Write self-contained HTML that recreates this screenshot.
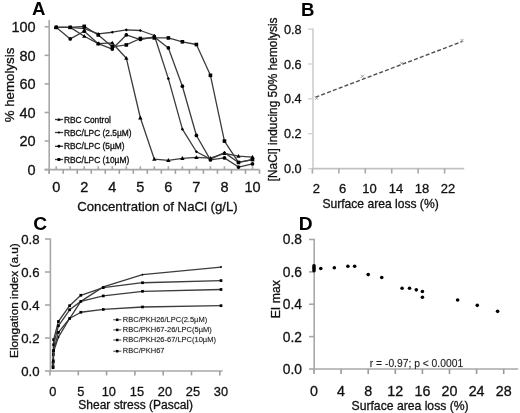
<!DOCTYPE html>
<html><head><meta charset="utf-8"><style>
html,body{margin:0;padding:0;background:#fff;}
body{width:520px;height:413px;overflow:hidden;}
svg{display:block;font-family:"Liberation Sans", sans-serif;will-change:transform;}
</style></head><body>
<svg width="520" height="413" viewBox="0 0 520 413">
<rect width="520" height="413" fill="#fff"/>
<text x="32.00" y="15.00" font-size="18.6" text-anchor="start" font-weight="bold" fill="#000" stroke="#000" stroke-width="0" >A</text>
<line x1="49.20" y1="20.00" x2="49.20" y2="173.80" stroke="#a8a8a8" stroke-width="1.6" />
<line x1="44.60" y1="169.60" x2="49.20" y2="169.60" stroke="#a8a8a8" stroke-width="1.6" />
<text x="35.60" y="174.82" font-size="14.5" text-anchor="end" font-weight="normal" fill="#111" stroke="#111" stroke-width="0.3" >0</text>
<line x1="44.60" y1="141.04" x2="49.20" y2="141.04" stroke="#a8a8a8" stroke-width="1.6" />
<text x="35.60" y="146.26" font-size="14.5" text-anchor="end" font-weight="normal" fill="#111" stroke="#111" stroke-width="0.3" >20</text>
<line x1="44.60" y1="112.48" x2="49.20" y2="112.48" stroke="#a8a8a8" stroke-width="1.6" />
<text x="35.60" y="117.70" font-size="14.5" text-anchor="end" font-weight="normal" fill="#111" stroke="#111" stroke-width="0.3" >40</text>
<line x1="44.60" y1="83.92" x2="49.20" y2="83.92" stroke="#a8a8a8" stroke-width="1.6" />
<text x="35.60" y="89.14" font-size="14.5" text-anchor="end" font-weight="normal" fill="#111" stroke="#111" stroke-width="0.3" >60</text>
<line x1="44.60" y1="55.36" x2="49.20" y2="55.36" stroke="#a8a8a8" stroke-width="1.6" />
<text x="35.60" y="60.58" font-size="14.5" text-anchor="end" font-weight="normal" fill="#111" stroke="#111" stroke-width="0.3" >80</text>
<line x1="44.60" y1="26.80" x2="49.20" y2="26.80" stroke="#a8a8a8" stroke-width="1.6" />
<text x="35.60" y="32.02" font-size="14.5" text-anchor="end" font-weight="normal" fill="#111" stroke="#111" stroke-width="0.3" >100</text>
<line x1="44.60" y1="169.60" x2="259.50" y2="169.60" stroke="#a8a8a8" stroke-width="1.6" />
<line x1="49.20" y1="169.60" x2="49.20" y2="173.80" stroke="#a0a0a0" stroke-width="1.6" />
<line x1="63.22" y1="169.60" x2="63.22" y2="173.80" stroke="#a0a0a0" stroke-width="1.6" />
<line x1="77.24" y1="169.60" x2="77.24" y2="173.80" stroke="#a0a0a0" stroke-width="1.6" />
<line x1="91.26" y1="169.60" x2="91.26" y2="173.80" stroke="#a0a0a0" stroke-width="1.6" />
<line x1="105.28" y1="169.60" x2="105.28" y2="173.80" stroke="#a0a0a0" stroke-width="1.6" />
<line x1="119.30" y1="169.60" x2="119.30" y2="173.80" stroke="#a0a0a0" stroke-width="1.6" />
<line x1="133.32" y1="169.60" x2="133.32" y2="173.80" stroke="#a0a0a0" stroke-width="1.6" />
<line x1="147.34" y1="169.60" x2="147.34" y2="173.80" stroke="#a0a0a0" stroke-width="1.6" />
<line x1="161.36" y1="169.60" x2="161.36" y2="173.80" stroke="#a0a0a0" stroke-width="1.6" />
<line x1="175.38" y1="169.60" x2="175.38" y2="173.80" stroke="#a0a0a0" stroke-width="1.6" />
<line x1="189.40" y1="169.60" x2="189.40" y2="173.80" stroke="#a0a0a0" stroke-width="1.6" />
<line x1="203.42" y1="169.60" x2="203.42" y2="173.80" stroke="#a0a0a0" stroke-width="1.6" />
<line x1="217.44" y1="169.60" x2="217.44" y2="173.80" stroke="#a0a0a0" stroke-width="1.6" />
<line x1="231.46" y1="169.60" x2="231.46" y2="173.80" stroke="#a0a0a0" stroke-width="1.6" />
<line x1="245.48" y1="169.60" x2="245.48" y2="173.80" stroke="#a0a0a0" stroke-width="1.6" />
<line x1="259.50" y1="169.60" x2="259.50" y2="173.80" stroke="#a0a0a0" stroke-width="1.6" />
<line x1="56.21" y1="166.30" x2="56.21" y2="169.60" stroke="#a8a8a8" stroke-width="1.6" />
<line x1="70.23" y1="166.30" x2="70.23" y2="169.60" stroke="#a8a8a8" stroke-width="1.6" />
<line x1="84.25" y1="166.30" x2="84.25" y2="169.60" stroke="#a8a8a8" stroke-width="1.6" />
<line x1="98.27" y1="166.30" x2="98.27" y2="169.60" stroke="#a8a8a8" stroke-width="1.6" />
<line x1="112.29" y1="166.30" x2="112.29" y2="169.60" stroke="#a8a8a8" stroke-width="1.6" />
<line x1="126.31" y1="166.30" x2="126.31" y2="169.60" stroke="#a8a8a8" stroke-width="1.6" />
<line x1="140.33" y1="166.30" x2="140.33" y2="169.60" stroke="#a8a8a8" stroke-width="1.6" />
<line x1="154.35" y1="166.30" x2="154.35" y2="169.60" stroke="#a8a8a8" stroke-width="1.6" />
<line x1="168.37" y1="166.30" x2="168.37" y2="169.60" stroke="#a8a8a8" stroke-width="1.6" />
<line x1="182.39" y1="166.30" x2="182.39" y2="169.60" stroke="#a8a8a8" stroke-width="1.6" />
<line x1="196.41" y1="166.30" x2="196.41" y2="169.60" stroke="#a8a8a8" stroke-width="1.6" />
<line x1="210.43" y1="166.30" x2="210.43" y2="169.60" stroke="#a8a8a8" stroke-width="1.6" />
<line x1="224.45" y1="166.30" x2="224.45" y2="169.60" stroke="#a8a8a8" stroke-width="1.6" />
<line x1="238.47" y1="166.30" x2="238.47" y2="169.60" stroke="#a8a8a8" stroke-width="1.6" />
<line x1="252.49" y1="166.30" x2="252.49" y2="169.60" stroke="#a8a8a8" stroke-width="1.6" />
<text x="56.21" y="191.90" font-size="14.5" text-anchor="middle" font-weight="normal" fill="#111" stroke="#111" stroke-width="0.3" >0</text>
<text x="84.25" y="191.90" font-size="14.5" text-anchor="middle" font-weight="normal" fill="#111" stroke="#111" stroke-width="0.3" >2</text>
<text x="112.29" y="191.90" font-size="14.5" text-anchor="middle" font-weight="normal" fill="#111" stroke="#111" stroke-width="0.3" >4</text>
<text x="140.33" y="191.90" font-size="14.5" text-anchor="middle" font-weight="normal" fill="#111" stroke="#111" stroke-width="0.3" >5</text>
<text x="168.37" y="191.90" font-size="14.5" text-anchor="middle" font-weight="normal" fill="#111" stroke="#111" stroke-width="0.3" >6</text>
<text x="196.41" y="191.90" font-size="14.5" text-anchor="middle" font-weight="normal" fill="#111" stroke="#111" stroke-width="0.3" >7</text>
<text x="224.45" y="191.90" font-size="14.5" text-anchor="middle" font-weight="normal" fill="#111" stroke="#111" stroke-width="0.3" >8</text>
<text x="252.49" y="191.90" font-size="14.5" text-anchor="middle" font-weight="normal" fill="#111" stroke="#111" stroke-width="0.3" >10</text>
<text x="77.20" y="210.90" font-size="13.2" text-anchor="start" font-weight="normal" fill="#111" stroke="#111" stroke-width="0.3" >Concentration of NaCl (g/L)</text>
<text x="0" y="0" font-size="13.3" text-anchor="middle" fill="#111" stroke="#111" stroke-width="0.3" transform="translate(13.90,85.00) rotate(-90)">% hemolysis</text>
<polyline points="56.21,27.37 70.23,27.37 84.25,36.22 98.27,43.65 112.29,42.94 126.31,58.22 140.33,117.76 154.35,159.18 168.37,160.32 182.39,158.32 196.41,157.46 210.43,158.18 224.45,153.32 238.47,156.18 252.49,157.03" fill="none" stroke="#3c3c3c" stroke-width="1.3" stroke-linejoin="round" />
<polygon points="56.21,25.17 58.41,29.02 54.01,29.02" fill="#000"/>
<polygon points="70.23,25.17 72.43,29.02 68.03,29.02" fill="#000"/>
<polygon points="84.25,34.02 86.45,37.87 82.05,37.87" fill="#000"/>
<polygon points="98.27,41.45 100.47,45.30 96.07,45.30" fill="#000"/>
<polygon points="112.29,40.74 114.49,44.59 110.09,44.59" fill="#000"/>
<polygon points="126.31,56.02 128.51,59.87 124.11,59.87" fill="#000"/>
<polygon points="140.33,115.56 142.53,119.41 138.13,119.41" fill="#000"/>
<polygon points="154.35,156.98 156.55,160.83 152.15,160.83" fill="#000"/>
<polygon points="168.37,158.12 170.57,161.97 166.17,161.97" fill="#000"/>
<polygon points="182.39,156.12 184.59,159.97 180.19,159.97" fill="#000"/>
<polygon points="196.41,155.26 198.61,159.11 194.21,159.11" fill="#000"/>
<polygon points="210.43,155.98 212.63,159.83 208.23,159.83" fill="#000"/>
<polygon points="224.45,151.12 226.65,154.97 222.25,154.97" fill="#000"/>
<polygon points="238.47,153.98 240.67,157.83 236.27,157.83" fill="#000"/>
<polygon points="252.49,154.83 254.69,158.68 250.29,158.68" fill="#000"/>
<polyline points="56.21,27.37 70.23,27.37 84.25,28.66 98.27,33.80 112.29,32.23 126.31,29.94 140.33,30.51 154.35,35.51 168.37,78.64 182.39,129.19 196.41,151.75 210.43,159.18 224.45,152.61 238.47,162.46 252.49,159.60" fill="none" stroke="#3c3c3c" stroke-width="1.3" stroke-linejoin="round" />
<polygon points="56.21,25.77 57.81,27.37 56.21,28.97 54.61,27.37" fill="#000"/>
<polygon points="70.23,25.77 71.83,27.37 70.23,28.97 68.63,27.37" fill="#000"/>
<polygon points="84.25,27.06 85.85,28.66 84.25,30.26 82.65,28.66" fill="#000"/>
<polygon points="98.27,32.20 99.87,33.80 98.27,35.40 96.67,33.80" fill="#000"/>
<polygon points="112.29,30.63 113.89,32.23 112.29,33.83 110.69,32.23" fill="#000"/>
<polygon points="126.31,28.34 127.91,29.94 126.31,31.54 124.71,29.94" fill="#000"/>
<polygon points="140.33,28.91 141.93,30.51 140.33,32.11 138.73,30.51" fill="#000"/>
<polygon points="154.35,33.91 155.95,35.51 154.35,37.11 152.75,35.51" fill="#000"/>
<polygon points="168.37,77.04 169.97,78.64 168.37,80.24 166.77,78.64" fill="#000"/>
<polygon points="182.39,127.59 183.99,129.19 182.39,130.79 180.79,129.19" fill="#000"/>
<polygon points="196.41,150.15 198.01,151.75 196.41,153.35 194.81,151.75" fill="#000"/>
<polygon points="210.43,157.58 212.03,159.18 210.43,160.78 208.83,159.18" fill="#000"/>
<polygon points="224.45,151.01 226.05,152.61 224.45,154.21 222.85,152.61" fill="#000"/>
<polygon points="238.47,160.86 240.07,162.46 238.47,164.06 236.87,162.46" fill="#000"/>
<polygon points="252.49,158.00 254.09,159.60 252.49,161.20 250.89,159.60" fill="#000"/>
<polyline points="56.21,27.37 70.23,38.94 84.25,31.23 98.27,43.65 112.29,49.08 126.31,34.94 140.33,39.51 154.35,36.94 168.37,47.93 182.39,86.20 196.41,135.47 210.43,159.89 224.45,157.89 238.47,167.03 252.49,163.89" fill="none" stroke="#3c3c3c" stroke-width="1.3" stroke-linejoin="round" />
<circle cx="56.21" cy="27.37" r="1.85" fill="#000"/>
<circle cx="70.23" cy="38.94" r="1.85" fill="#000"/>
<circle cx="84.25" cy="31.23" r="1.85" fill="#000"/>
<circle cx="98.27" cy="43.65" r="1.85" fill="#000"/>
<circle cx="112.29" cy="49.08" r="1.85" fill="#000"/>
<circle cx="126.31" cy="34.94" r="1.85" fill="#000"/>
<circle cx="140.33" cy="39.51" r="1.85" fill="#000"/>
<circle cx="154.35" cy="36.94" r="1.85" fill="#000"/>
<circle cx="168.37" cy="47.93" r="1.85" fill="#000"/>
<circle cx="182.39" cy="86.20" r="1.85" fill="#000"/>
<circle cx="196.41" cy="135.47" r="1.85" fill="#000"/>
<circle cx="210.43" cy="159.89" r="1.85" fill="#000"/>
<circle cx="224.45" cy="157.89" r="1.85" fill="#000"/>
<circle cx="238.47" cy="167.03" r="1.85" fill="#000"/>
<circle cx="252.49" cy="163.89" r="1.85" fill="#000"/>
<polyline points="56.21,27.37 70.23,27.37 84.25,26.37 98.27,34.94 112.29,46.79 126.31,44.94 140.33,38.51 154.35,37.94 168.37,37.94 182.39,41.79 196.41,44.51 210.43,75.35 224.45,141.04 238.47,162.46 252.49,159.60" fill="none" stroke="#3c3c3c" stroke-width="1.3" stroke-linejoin="round" />
<rect x="54.41" y="25.57" width="3.60" height="3.60" fill="#000"/>
<rect x="68.43" y="25.57" width="3.60" height="3.60" fill="#000"/>
<rect x="82.45" y="24.57" width="3.60" height="3.60" fill="#000"/>
<rect x="96.47" y="33.14" width="3.60" height="3.60" fill="#000"/>
<rect x="110.49" y="44.99" width="3.60" height="3.60" fill="#000"/>
<rect x="124.51" y="43.14" width="3.60" height="3.60" fill="#000"/>
<rect x="138.53" y="36.71" width="3.60" height="3.60" fill="#000"/>
<rect x="152.55" y="36.14" width="3.60" height="3.60" fill="#000"/>
<rect x="166.57" y="36.14" width="3.60" height="3.60" fill="#000"/>
<rect x="180.59" y="39.99" width="3.60" height="3.60" fill="#000"/>
<rect x="194.61" y="42.71" width="3.60" height="3.60" fill="#000"/>
<rect x="208.63" y="73.55" width="3.60" height="3.60" fill="#000"/>
<rect x="222.65" y="139.24" width="3.60" height="3.60" fill="#000"/>
<rect x="236.67" y="160.66" width="3.60" height="3.60" fill="#000"/>
<rect x="250.69" y="157.80" width="3.60" height="3.60" fill="#000"/>
<line x1="55.00" y1="119.50" x2="63.10" y2="119.50" stroke="#3c3c3c" stroke-width="1.3" />
<polygon points="58.90,117.74 60.66,120.82 57.14,120.82" fill="#000"/>
<text x="63.90" y="122.52" font-size="8.4" text-anchor="start" font-weight="normal" fill="#111" stroke="#111" stroke-width="0.3" >RBC Control</text>
<line x1="55.00" y1="132.50" x2="63.10" y2="132.50" stroke="#3c3c3c" stroke-width="1.3" />
<polygon points="58.90,131.22 60.18,132.50 58.90,133.78 57.62,132.50" fill="#000"/>
<text x="63.90" y="135.52" font-size="8.4" text-anchor="start" font-weight="normal" fill="#111" stroke="#111" stroke-width="0.3" >RBC/LPC (2.5µM)</text>
<line x1="55.00" y1="146.30" x2="63.10" y2="146.30" stroke="#3c3c3c" stroke-width="1.3" />
<circle cx="58.90" cy="146.30" r="1.48" fill="#000"/>
<text x="63.90" y="149.32" font-size="8.4" text-anchor="start" font-weight="normal" fill="#111" stroke="#111" stroke-width="0.3" >RBC/LPC (5µM)</text>
<line x1="55.00" y1="159.50" x2="63.10" y2="159.50" stroke="#3c3c3c" stroke-width="1.3" />
<rect x="57.46" y="158.06" width="2.88" height="2.88" fill="#000"/>
<text x="63.90" y="162.52" font-size="8.4" text-anchor="start" font-weight="normal" fill="#111" stroke="#111" stroke-width="0.3" >RBC/LPC (10µM)</text>
<text x="300.90" y="16.00" font-size="18.6" text-anchor="start" font-weight="bold" fill="#000" stroke="#000" stroke-width="0" >B</text>
<line x1="313.00" y1="28.50" x2="313.00" y2="168.60" stroke="#c2c2c2" stroke-width="1.3" />
<line x1="308.20" y1="168.60" x2="313.00" y2="168.60" stroke="#d0d0d0" stroke-width="1.3" />
<text x="301.60" y="173.17" font-size="12.7" text-anchor="end" font-weight="normal" fill="#111" stroke="#111" stroke-width="0.3" >0.0</text>
<line x1="308.20" y1="133.73" x2="313.00" y2="133.73" stroke="#d0d0d0" stroke-width="1.3" />
<text x="301.60" y="138.30" font-size="12.7" text-anchor="end" font-weight="normal" fill="#111" stroke="#111" stroke-width="0.3" >0.2</text>
<line x1="308.20" y1="98.86" x2="313.00" y2="98.86" stroke="#d0d0d0" stroke-width="1.3" />
<text x="301.60" y="103.43" font-size="12.7" text-anchor="end" font-weight="normal" fill="#111" stroke="#111" stroke-width="0.3" >0.4</text>
<line x1="308.20" y1="63.99" x2="313.00" y2="63.99" stroke="#d0d0d0" stroke-width="1.3" />
<text x="301.60" y="68.56" font-size="12.7" text-anchor="end" font-weight="normal" fill="#111" stroke="#111" stroke-width="0.3" >0.6</text>
<line x1="308.20" y1="29.12" x2="313.00" y2="29.12" stroke="#d0d0d0" stroke-width="1.3" />
<text x="301.60" y="33.69" font-size="12.7" text-anchor="end" font-weight="normal" fill="#111" stroke="#111" stroke-width="0.3" >0.8</text>
<line x1="313.00" y1="168.60" x2="464.20" y2="168.60" stroke="#c2c2c2" stroke-width="1.6" />
<line x1="312.40" y1="168.60" x2="312.40" y2="173.60" stroke="#aaa" stroke-width="1.6" />
<line x1="338.84" y1="168.60" x2="338.84" y2="173.60" stroke="#aaa" stroke-width="1.6" />
<line x1="365.28" y1="168.60" x2="365.28" y2="173.60" stroke="#aaa" stroke-width="1.6" />
<line x1="391.72" y1="168.60" x2="391.72" y2="173.60" stroke="#aaa" stroke-width="1.6" />
<line x1="418.16" y1="168.60" x2="418.16" y2="173.60" stroke="#aaa" stroke-width="1.6" />
<line x1="444.60" y1="168.60" x2="444.60" y2="173.60" stroke="#aaa" stroke-width="1.6" />
<text x="316.30" y="192.60" font-size="13" text-anchor="middle" font-weight="normal" fill="#111" stroke="#111" stroke-width="0.3" >2</text>
<text x="342.50" y="192.60" font-size="13" text-anchor="middle" font-weight="normal" fill="#111" stroke="#111" stroke-width="0.3" >6</text>
<text x="369.60" y="192.60" font-size="13" text-anchor="middle" font-weight="normal" fill="#111" stroke="#111" stroke-width="0.3" >10</text>
<text x="395.90" y="192.60" font-size="13" text-anchor="middle" font-weight="normal" fill="#111" stroke="#111" stroke-width="0.3" >14</text>
<text x="421.90" y="192.60" font-size="13" text-anchor="middle" font-weight="normal" fill="#111" stroke="#111" stroke-width="0.3" >18</text>
<text x="447.90" y="192.60" font-size="13" text-anchor="middle" font-weight="normal" fill="#111" stroke="#111" stroke-width="0.3" >22</text>
<text x="322.40" y="207.50" font-size="12.1" text-anchor="start" font-weight="normal" fill="#111" stroke="#111" stroke-width="0.3" >Surface area loss (%)</text>
<text x="0" y="0" font-size="11.9" text-anchor="middle" fill="#111" stroke="#111" stroke-width="0.3" transform="translate(276.60,99.40) rotate(-90)">[NaCl] inducing 50% hemolysis</text>
<line x1="315.50" y1="97.20" x2="462.50" y2="41.40" stroke="#505050" stroke-width="1.4" stroke-dasharray="4,2.2"/>
<path d="M315.00,96.60L318.20,99.80M318.20,96.60L315.00,99.80" stroke="#999" stroke-width="0.9" fill="none"/>
<path d="M360.90,74.70L364.10,77.90M364.10,74.70L360.90,77.90" stroke="#999" stroke-width="0.9" fill="none"/>
<path d="M400.00,61.70L403.20,64.90M403.20,61.70L400.00,64.90" stroke="#999" stroke-width="0.9" fill="none"/>
<path d="M460.40,38.90L463.60,42.10M463.60,38.90L460.40,42.10" stroke="#999" stroke-width="0.9" fill="none"/>
<text x="33.30" y="229.80" font-size="19.2" text-anchor="start" font-weight="bold" fill="#000" stroke="#000" stroke-width="0" >C</text>
<line x1="50.40" y1="238.50" x2="50.40" y2="371.00" stroke="#a8a8a8" stroke-width="1.6" />
<line x1="45.00" y1="371.00" x2="50.40" y2="371.00" stroke="#a8a8a8" stroke-width="1.6" />
<text x="39.50" y="375.75" font-size="13.2" text-anchor="end" font-weight="normal" fill="#111" stroke="#111" stroke-width="0.3" >0.0</text>
<line x1="45.00" y1="338.00" x2="50.40" y2="338.00" stroke="#a8a8a8" stroke-width="1.6" />
<text x="39.50" y="342.75" font-size="13.2" text-anchor="end" font-weight="normal" fill="#111" stroke="#111" stroke-width="0.3" >0.2</text>
<line x1="45.00" y1="305.00" x2="50.40" y2="305.00" stroke="#a8a8a8" stroke-width="1.6" />
<text x="39.50" y="309.75" font-size="13.2" text-anchor="end" font-weight="normal" fill="#111" stroke="#111" stroke-width="0.3" >0.4</text>
<line x1="45.00" y1="272.00" x2="50.40" y2="272.00" stroke="#a8a8a8" stroke-width="1.6" />
<text x="39.50" y="276.75" font-size="13.2" text-anchor="end" font-weight="normal" fill="#111" stroke="#111" stroke-width="0.3" >0.6</text>
<line x1="45.00" y1="239.00" x2="50.40" y2="239.00" stroke="#a8a8a8" stroke-width="1.6" />
<text x="39.50" y="243.75" font-size="13.2" text-anchor="end" font-weight="normal" fill="#111" stroke="#111" stroke-width="0.3" >0.8</text>
<line x1="50.40" y1="371.00" x2="222.70" y2="371.00" stroke="#a8a8a8" stroke-width="1.6" />
<line x1="50.00" y1="371.00" x2="50.00" y2="375.40" stroke="#a0a0a0" stroke-width="1.6" />
<line x1="78.30" y1="371.00" x2="78.30" y2="375.40" stroke="#a0a0a0" stroke-width="1.6" />
<line x1="106.60" y1="371.00" x2="106.60" y2="375.40" stroke="#a0a0a0" stroke-width="1.6" />
<line x1="134.90" y1="371.00" x2="134.90" y2="375.40" stroke="#a0a0a0" stroke-width="1.6" />
<line x1="163.20" y1="371.00" x2="163.20" y2="375.40" stroke="#a0a0a0" stroke-width="1.6" />
<line x1="191.50" y1="371.00" x2="191.50" y2="375.40" stroke="#a0a0a0" stroke-width="1.6" />
<line x1="219.80" y1="371.00" x2="219.80" y2="375.40" stroke="#a0a0a0" stroke-width="1.6" />
<text x="52.80" y="395.70" font-size="12.8" text-anchor="middle" font-weight="normal" fill="#111" stroke="#111" stroke-width="0.3" >0</text>
<text x="80.83" y="395.70" font-size="12.8" text-anchor="middle" font-weight="normal" fill="#111" stroke="#111" stroke-width="0.3" >5</text>
<text x="108.86" y="395.70" font-size="12.8" text-anchor="middle" font-weight="normal" fill="#111" stroke="#111" stroke-width="0.3" >10</text>
<text x="136.89" y="395.70" font-size="12.8" text-anchor="middle" font-weight="normal" fill="#111" stroke="#111" stroke-width="0.3" >15</text>
<text x="164.92" y="395.70" font-size="12.8" text-anchor="middle" font-weight="normal" fill="#111" stroke="#111" stroke-width="0.3" >20</text>
<text x="192.95" y="395.70" font-size="12.8" text-anchor="middle" font-weight="normal" fill="#111" stroke="#111" stroke-width="0.3" >25</text>
<text x="220.98" y="395.70" font-size="12.8" text-anchor="middle" font-weight="normal" fill="#111" stroke="#111" stroke-width="0.3" >30</text>
<text x="78.30" y="409.00" font-size="12" text-anchor="start" font-weight="normal" fill="#111" stroke="#111" stroke-width="0.3" >Shear stress (Pascal)</text>
<text x="0" y="0" font-size="11.8" text-anchor="middle" fill="#111" stroke="#111" stroke-width="0.3" transform="translate(17.80,300.60) rotate(-90)">Elongation index (a.u)</text>
<polyline points="53.08,367.70 53.36,359.45 53.64,351.20 58.41,337.18 69.62,318.53 80.83,301.37 103.26,286.85 142.51,274.64 221.01,267.05" fill="none" stroke="#3c3c3c" stroke-width="1.3" stroke-linejoin="round" />
<polygon points="53.08,366.50 54.28,367.70 53.08,368.90 51.88,367.70" fill="#000"/>
<polygon points="53.36,358.25 54.56,359.45 53.36,360.65 52.16,359.45" fill="#000"/>
<polygon points="53.64,350.00 54.84,351.20 53.64,352.40 52.44,351.20" fill="#000"/>
<polygon points="58.41,335.98 59.61,337.18 58.41,338.38 57.21,337.18" fill="#000"/>
<polygon points="69.62,317.33 70.82,318.53 69.62,319.73 68.42,318.53" fill="#000"/>
<polygon points="80.83,300.17 82.03,301.37 80.83,302.57 79.63,301.37" fill="#000"/>
<polygon points="103.26,285.65 104.46,286.85 103.26,288.05 102.06,286.85" fill="#000"/>
<polygon points="142.51,273.44 143.71,274.64 142.51,275.84 141.31,274.64" fill="#000"/>
<polygon points="221.01,265.85 222.21,267.05 221.01,268.25 219.81,267.05" fill="#000"/>
<polyline points="53.08,362.75 53.36,351.20 53.64,339.65 58.41,321.50 69.62,305.66 80.83,295.26 103.26,287.68 142.51,282.73 221.01,280.58" fill="none" stroke="#3c3c3c" stroke-width="1.3" stroke-linejoin="round" />
<rect x="51.73" y="361.40" width="2.70" height="2.70" fill="#000"/>
<rect x="52.01" y="349.85" width="2.70" height="2.70" fill="#000"/>
<rect x="52.29" y="338.30" width="2.70" height="2.70" fill="#000"/>
<rect x="57.06" y="320.15" width="2.70" height="2.70" fill="#000"/>
<rect x="68.27" y="304.31" width="2.70" height="2.70" fill="#000"/>
<rect x="79.48" y="293.91" width="2.70" height="2.70" fill="#000"/>
<rect x="101.91" y="286.32" width="2.70" height="2.70" fill="#000"/>
<rect x="141.16" y="281.38" width="2.70" height="2.70" fill="#000"/>
<rect x="219.66" y="279.23" width="2.70" height="2.70" fill="#000"/>
<polyline points="53.08,366.05 53.36,354.50 53.64,344.76 58.41,325.79 69.62,309.79 80.83,301.37 103.26,295.93 142.51,291.31 221.01,289.49" fill="none" stroke="#3c3c3c" stroke-width="1.3" stroke-linejoin="round" />
<rect x="51.73" y="364.70" width="2.70" height="2.70" fill="#000"/>
<rect x="52.01" y="353.15" width="2.70" height="2.70" fill="#000"/>
<rect x="52.29" y="343.41" width="2.70" height="2.70" fill="#000"/>
<rect x="57.06" y="324.44" width="2.70" height="2.70" fill="#000"/>
<rect x="68.27" y="308.44" width="2.70" height="2.70" fill="#000"/>
<rect x="79.48" y="300.02" width="2.70" height="2.70" fill="#000"/>
<rect x="101.91" y="294.57" width="2.70" height="2.70" fill="#000"/>
<rect x="141.16" y="289.95" width="2.70" height="2.70" fill="#000"/>
<rect x="219.66" y="288.14" width="2.70" height="2.70" fill="#000"/>
<polyline points="53.08,367.70 53.36,361.10 53.64,350.38 58.41,332.39 69.62,318.53 80.83,312.26 103.26,309.45 142.51,306.98 221.01,305.66" fill="none" stroke="#3c3c3c" stroke-width="1.3" stroke-linejoin="round" />
<rect x="51.73" y="366.35" width="2.70" height="2.70" fill="#000"/>
<rect x="52.01" y="359.75" width="2.70" height="2.70" fill="#000"/>
<rect x="52.29" y="349.02" width="2.70" height="2.70" fill="#000"/>
<rect x="57.06" y="331.04" width="2.70" height="2.70" fill="#000"/>
<rect x="68.27" y="317.18" width="2.70" height="2.70" fill="#000"/>
<rect x="79.48" y="310.91" width="2.70" height="2.70" fill="#000"/>
<rect x="101.91" y="308.10" width="2.70" height="2.70" fill="#000"/>
<rect x="141.16" y="305.63" width="2.70" height="2.70" fill="#000"/>
<rect x="219.66" y="304.31" width="2.70" height="2.70" fill="#000"/>
<line x1="113.20" y1="319.80" x2="121.30" y2="319.80" stroke="#333" stroke-width="0.9" />
<rect x="115.94" y="318.54" width="2.52" height="2.52" fill="#000"/>
<text x="122.80" y="321.82" font-size="7.5" text-anchor="start" font-weight="normal" fill="#222" stroke="#222" stroke-width="0.3" stroke-opacity="0.4">RBC/PKH26/LPC(2.5µM)</text>
<line x1="113.20" y1="329.90" x2="121.30" y2="329.90" stroke="#333" stroke-width="0.9" />
<rect x="115.94" y="328.64" width="2.52" height="2.52" fill="#000"/>
<text x="122.80" y="331.92" font-size="7.5" text-anchor="start" font-weight="normal" fill="#222" stroke="#222" stroke-width="0.3" stroke-opacity="0.4">RBC/PKH67-26/LPC(5µM)</text>
<line x1="113.20" y1="340.00" x2="121.30" y2="340.00" stroke="#333" stroke-width="0.9" />
<rect x="115.94" y="338.74" width="2.52" height="2.52" fill="#000"/>
<text x="122.80" y="342.02" font-size="7.5" text-anchor="start" font-weight="normal" fill="#222" stroke="#222" stroke-width="0.3" stroke-opacity="0.4">RBC/PKH26-67/LPC(10µM)</text>
<line x1="113.20" y1="351.20" x2="121.30" y2="351.20" stroke="#333" stroke-width="0.9" />
<rect x="115.94" y="349.94" width="2.52" height="2.52" fill="#000"/>
<text x="122.80" y="353.22" font-size="7.5" text-anchor="start" font-weight="normal" fill="#222" stroke="#222" stroke-width="0.3" stroke-opacity="0.4">RBC/PKH67</text>
<text x="298.70" y="229.80" font-size="19.2" text-anchor="start" font-weight="bold" fill="#000" stroke="#000" stroke-width="0" >D</text>
<line x1="314.20" y1="238.80" x2="314.20" y2="369.00" stroke="#a8a8a8" stroke-width="1.6" />
<line x1="309.00" y1="369.00" x2="314.20" y2="369.00" stroke="#a8a8a8" stroke-width="1.6" />
<text x="302.00" y="373.97" font-size="13.8" text-anchor="end" font-weight="normal" fill="#111" stroke="#111" stroke-width="0.3" >0.0</text>
<line x1="309.00" y1="336.62" x2="314.20" y2="336.62" stroke="#a8a8a8" stroke-width="1.6" />
<text x="302.00" y="341.59" font-size="13.8" text-anchor="end" font-weight="normal" fill="#111" stroke="#111" stroke-width="0.3" >0.2</text>
<line x1="309.00" y1="304.24" x2="314.20" y2="304.24" stroke="#a8a8a8" stroke-width="1.6" />
<text x="302.00" y="309.21" font-size="13.8" text-anchor="end" font-weight="normal" fill="#111" stroke="#111" stroke-width="0.3" >0.4</text>
<line x1="309.00" y1="271.86" x2="314.20" y2="271.86" stroke="#a8a8a8" stroke-width="1.6" />
<text x="302.00" y="276.83" font-size="13.8" text-anchor="end" font-weight="normal" fill="#111" stroke="#111" stroke-width="0.3" >0.6</text>
<line x1="309.00" y1="239.48" x2="314.20" y2="239.48" stroke="#a8a8a8" stroke-width="1.6" />
<text x="302.00" y="244.45" font-size="13.8" text-anchor="end" font-weight="normal" fill="#111" stroke="#111" stroke-width="0.3" >0.8</text>
<line x1="314.20" y1="369.00" x2="518.20" y2="369.00" stroke="#a8a8a8" stroke-width="1.6" />
<line x1="314.00" y1="369.00" x2="314.00" y2="374.00" stroke="#999" stroke-width="1.6" />
<text x="314.00" y="395.80" font-size="14.3" text-anchor="middle" font-weight="normal" fill="#111" stroke="#111" stroke-width="0.3" >0</text>
<line x1="341.10" y1="369.00" x2="341.10" y2="374.00" stroke="#999" stroke-width="1.6" />
<text x="341.10" y="395.80" font-size="14.3" text-anchor="middle" font-weight="normal" fill="#111" stroke="#111" stroke-width="0.3" >4</text>
<line x1="368.20" y1="369.00" x2="368.20" y2="374.00" stroke="#999" stroke-width="1.6" />
<text x="368.20" y="395.80" font-size="14.3" text-anchor="middle" font-weight="normal" fill="#111" stroke="#111" stroke-width="0.3" >8</text>
<line x1="395.30" y1="369.00" x2="395.30" y2="374.00" stroke="#999" stroke-width="1.6" />
<text x="395.30" y="395.80" font-size="14.3" text-anchor="middle" font-weight="normal" fill="#111" stroke="#111" stroke-width="0.3" >12</text>
<line x1="422.40" y1="369.00" x2="422.40" y2="374.00" stroke="#999" stroke-width="1.6" />
<text x="422.40" y="395.80" font-size="14.3" text-anchor="middle" font-weight="normal" fill="#111" stroke="#111" stroke-width="0.3" >16</text>
<line x1="449.50" y1="369.00" x2="449.50" y2="374.00" stroke="#999" stroke-width="1.6" />
<text x="449.50" y="395.80" font-size="14.3" text-anchor="middle" font-weight="normal" fill="#111" stroke="#111" stroke-width="0.3" >20</text>
<line x1="476.60" y1="369.00" x2="476.60" y2="374.00" stroke="#999" stroke-width="1.6" />
<text x="476.60" y="395.80" font-size="14.3" text-anchor="middle" font-weight="normal" fill="#111" stroke="#111" stroke-width="0.3" >24</text>
<line x1="503.70" y1="369.00" x2="503.70" y2="374.00" stroke="#999" stroke-width="1.6" />
<text x="503.70" y="395.80" font-size="14.3" text-anchor="middle" font-weight="normal" fill="#111" stroke="#111" stroke-width="0.3" >28</text>
<text x="351.50" y="410.00" font-size="12.2" text-anchor="start" font-weight="normal" fill="#111" stroke="#111" stroke-width="0.3" >Surface area loss (%)</text>
<text x="0" y="0" font-size="12.3" text-anchor="middle" fill="#111" stroke="#111" stroke-width="0.3" transform="translate(280.00,299.20) rotate(-90)">EI max</text>
<text x="369.80" y="367.30" font-size="10.3" text-anchor="start" font-weight="normal" fill="#1a1a1a" stroke="#1a1a1a" stroke-width="0.3" stroke-opacity="0.35">r = -0.97; p &lt; 0.0001</text>
<circle cx="314.00" cy="265.87" r="1.8" fill="#000"/>
<circle cx="314.00" cy="267.49" r="1.8" fill="#000"/>
<circle cx="314.00" cy="269.11" r="1.8" fill="#000"/>
<circle cx="314.00" cy="270.73" r="1.8" fill="#000"/>
<circle cx="320.77" cy="268.46" r="1.8" fill="#000"/>
<circle cx="334.32" cy="267.81" r="1.8" fill="#000"/>
<circle cx="347.88" cy="266.19" r="1.8" fill="#000"/>
<circle cx="354.65" cy="266.19" r="1.8" fill="#000"/>
<circle cx="368.20" cy="274.61" r="1.8" fill="#000"/>
<circle cx="381.75" cy="277.53" r="1.8" fill="#000"/>
<circle cx="402.07" cy="288.21" r="1.8" fill="#000"/>
<circle cx="409.53" cy="288.21" r="1.8" fill="#000"/>
<circle cx="416.30" cy="289.83" r="1.8" fill="#000"/>
<circle cx="422.40" cy="291.45" r="1.8" fill="#000"/>
<circle cx="422.40" cy="297.28" r="1.8" fill="#000"/>
<circle cx="457.63" cy="300.03" r="1.8" fill="#000"/>
<circle cx="477.28" cy="305.37" r="1.8" fill="#000"/>
<circle cx="497.60" cy="311.36" r="1.8" fill="#000"/>
</svg>
</body></html>
